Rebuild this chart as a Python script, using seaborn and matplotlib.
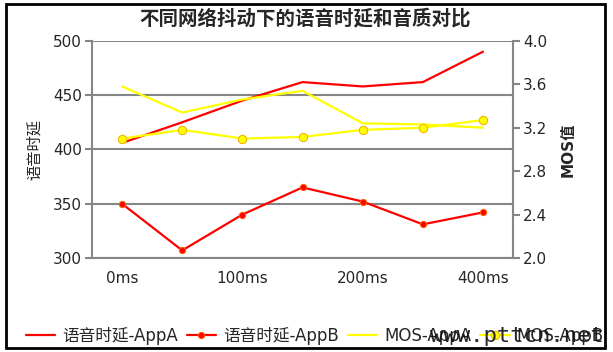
import matplotlib
matplotlib.use('Agg')
import matplotlib.pyplot as plt
import seaborn as sns
import pandas as pd
import numpy as np
from matplotlib.patches import Rectangle
from matplotlib.ticker import FixedLocator

# ---- data ----
categories = ['0ms', '50ms', '100ms', '150ms', '200ms', '300ms', '400ms']
tick_labels = ['0ms', '', '100ms', '', '200ms', '', '400ms']
delay_appA = [406, 425, 445, 462, 458, 462, 490]
delay_appB = [350, 307, 340, 365, 352, 331, 342]
mos_appA = [3.58, 3.34, 3.46, 3.54, 3.24, 3.23, 3.20]
mos_appB = [3.10, 3.18, 3.10, 3.115, 3.18, 3.20, 3.27]
title = '不同网络抖动下的语音时延和音质对比'
left_label = '语音时延'
right_label = 'MOS值'
series_names = ['语音时延-AppA', '语音时延-AppB', 'MOS-AppA', 'MOS-AppB']

sns.set_style('white')
plt.rcParams['font.family'] = ['DejaVu Sans', 'Noto Sans CJK SC']

df = pd.DataFrame({
    'x': np.arange(len(categories)),
    'dA': delay_appA, 'dB': delay_appB, 'mA': mos_appA, 'mB': mos_appB,
})

fig = plt.figure(figsize=(6.13, 3.52), dpi=100)
ax = fig.add_axes([0.150, 0.267, 0.687, 0.617])
ax2 = ax.twinx()

gray = '#868686'
red = '#FF0000'
yellow = '#FFFF00'

sns.lineplot(data=df, x='x', y='dA', ax=ax, color=red, linewidth=1.6, label=series_names[0], legend=False)
sns.lineplot(data=df, x='x', y='dB', ax=ax, color=red, linewidth=1.6, marker='o', markersize=4.5,
             markeredgecolor='#FF6000', markerfacecolor=red, label=series_names[1], legend=False)
sns.lineplot(data=df, x='x', y='mA', ax=ax2, color=yellow, linewidth=1.6, label=series_names[2], legend=False)
sns.lineplot(data=df, x='x', y='mB', ax=ax2, color=yellow, linewidth=1.6, marker='o', markersize=6,
             markeredgecolor='#F0B000', markerfacecolor=yellow, label=series_names[3], legend=False)

ax.set_xlim(-0.5, len(categories) - 0.5)
ax.set_ylim(300, 500)
ax.set_yticks([300, 350, 400, 450, 500])
ax2.set_ylim(2.0, 4.0)
ax2.set_yticks([2.0, 2.4, 2.8, 3.2, 3.6, 4.0])
ax2.set_yticklabels(['2.0', '2.4', '2.8', '3.2', '3.6', '4.0'])

ax.set_xticks(np.arange(len(categories)))
ax.set_xticklabels(tick_labels, fontsize=11)
ax.xaxis.set_minor_locator(FixedLocator(np.arange(-0.5, len(categories), 1.0)))
ax.tick_params(axis='x', which='major', length=0, pad=9)
ax.tick_params(axis='x', which='minor', length=5, width=1.5, color=gray, direction='out')
ax.tick_params(axis='y', length=5, width=1.5, color=gray, labelsize=11, pad=2)
ax2.tick_params(axis='y', length=5, width=1.5, color=gray, labelsize=11, pad=2)

ax.grid(axis='y', color=gray, linewidth=1.5)
ax.set_axisbelow(True)
for a in (ax, ax2):
    for s in a.spines.values():
        s.set_visible(False)
ax.spines['left'].set_visible(True)
ax.spines['bottom'].set_visible(True)
ax2.spines['right'].set_visible(True)
for s in (ax.spines['left'], ax.spines['bottom'], ax2.spines['right']):
    s.set_color(gray)
    s.set_linewidth(1.5)

ax.set_xlabel('')
ax.set_ylabel(left_label, fontsize=11, labelpad=8)
ax2.set_ylabel(right_label, fontsize=11, fontweight='bold', labelpad=10)

fig.text(0.497, 0.948, title, ha='center', va='center', fontsize=14, fontweight='bold')

h1, l1 = ax.get_legend_handles_labels()
h2, l2 = ax2.get_legend_handles_labels()
fig.legend(h1 + h2, l1 + l2, loc='center left', bbox_to_anchor=(0.042, 0.045), ncol=4, frameon=False,
           fontsize=12, handlelength=1.75, handletextpad=0.42, columnspacing=0.55,
           borderaxespad=0, borderpad=0)

fig.text(0.985, 0.045, 'www.pttcn.net', ha='right', va='center', fontsize=16,
         family='DejaVu Sans Mono', color='#101010', alpha=0.9, zorder=20)

fig.patches.append(Rectangle((0.009, 0.012), 0.978, 0.978, transform=fig.transFigure,
                             fill=False, edgecolor='black', linewidth=2))

fig.savefig('out.png', dpi=100)
